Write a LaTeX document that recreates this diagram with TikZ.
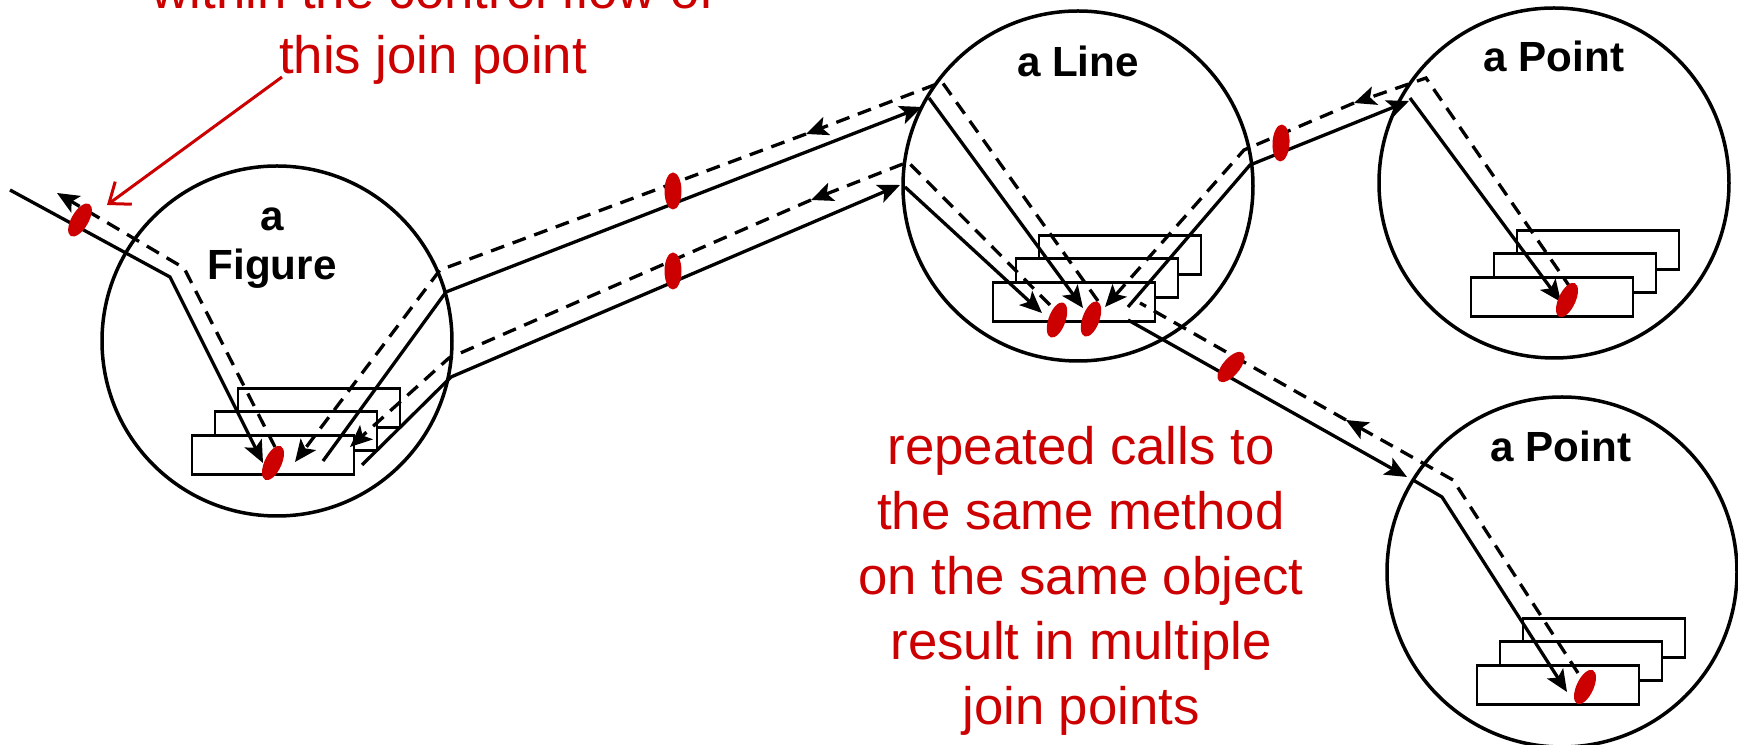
\documentclass[tikz,border=0pt]{standalone}
\usepackage{fontspec}
\setmainfont{Liberation Sans}
\usetikzlibrary{arrows.meta,shapes.geometric}
\definecolor{jpred}{RGB}{204,0,0}

\begin{document}
\begin{tikzpicture}
  [x=0.1mm, y=-0.1mm,
   objcircle/.style={draw, circle, line width=0.35mm, minimum size=35mm, inner sep=0pt},
   methodbox/.style={draw, fill=white, line width=0.24mm, minimum width=16.2mm, minimum height=3.9mm, inner sep=0pt},
   joinpt/.style={ellipse, fill=jpred, minimum width=1.7mm, minimum height=3.7mm, inner sep=0pt},
   objname/.style={font=\fontsize{12}{14.2}\selectfont\bfseries, align=center, anchor=base, inner sep=0pt},
   remark/.style={font=\fontsize{15}{18.5}\selectfont, text=jpred, align=center, anchor=base, inner sep=0pt},
   callline/.style={line width=0.33mm, -{Stealth[length=2.2mm, width=1.9mm, inset=0.5mm]}},
   returnline/.style={callline, dash pattern=on 1.4mm off 0.9mm},
   returnplain/.style={line width=0.33mm, dash pattern=on 1.4mm off 0.9mm}]
  \useasboundingbox (0,0) rectangle (1738,745);
  \clip (0,0) rectangle (1738,745);

  \node[objcircle] (fig) at (277,341) {};
  \node[objcircle] (line) at (1078,186) {};
  \node[objcircle] (pta) at (1554,183) {};
  \node[objcircle] (ptb) at (1562,572) {};

  \foreach \n/\x/\y in {fig/273/455, line/1074/302, pta/1552/297, ptb/1558/685}{
    \node[methodbox] (\n3) at (\x+46,\y-47) {};
    \node[methodbox] (\n2) at (\x+23,\y-24) {};
    \node[methodbox] (\n1) at (\x,\y) {};
  }

  \node[objname] (figname) at (272,280) {a\\Figure};
  \node[objname] (linename) at (1078,77) {a Line};
  \node[objname] (ptaname) at (1554,72) {a Point};
  \node[objname] (ptbname) at (1561,462) {a Point};

  \coordinate (a0) at (10,190);   \coordinate (a1) at (170,277);  \coordinate (a2) at (263,463);
  \coordinate (a3) at (275,447);  \coordinate (a4) at (184,268);  \coordinate (a5) at (57,193);

  \coordinate (b0) at (323,461);  \coordinate (b1) at (446,292);  \coordinate (b2) at (922,107);
  \coordinate (b3) at (929,98);   \coordinate (b4) at (1083,308);
  \coordinate (b5) at (1098,301); \coordinate (b6) at (942,82);   \coordinate (b7) at (806,134);
  \coordinate (b8) at (440,270);  \coordinate (b9) at (295,462);

  \coordinate (c0) at (362,465);  \coordinate (c1) at (451,377);  \coordinate (c2) at (900,185);
  \coordinate (c3) at (905,187);  \coordinate (c4) at (1042,313);
  \coordinate (c5) at (1050,305); \coordinate (c6) at (908,162);  \coordinate (c7) at (811,200);
  \coordinate (c8) at (449,358);  \coordinate (c9) at (350,447);

  \coordinate (d0) at (1128,307); \coordinate (d1) at (1250,165); \coordinate (d2) at (1409,101);
  \coordinate (d3) at (1410,98);  \coordinate (d4) at (1561,302);
  \coordinate (d5) at (1572,290); \coordinate (d6) at (1426,78);  \coordinate (d7) at (1354,103);
  \coordinate (d8) at (1244,150); \coordinate (d9) at (1105,307);

  \coordinate (e0) at (1128,320); \coordinate (e1) at (1407,477);
  \coordinate (e2) at (1413,480); \coordinate (e3) at (1442,497); \coordinate (e4) at (1567,692);
  \coordinate (e5) at (1578,673); \coordinate (e6) at (1453,480); \coordinate (e7) at (1346,420);
  \coordinate (e8) at (1140,303);

  \draw[callline] (a0) -- (a1) -- (a2);
  \draw[returnline] (a3) -- (a4) -- (a5);

  \draw[callline] (b0) -- (b1) -- (b2);
  \draw[callline] (b3) -- (b4);
  \draw[returnline] (b5) -- (b6) -- (b7);
  \draw[returnline] (b7) -- (b8) -- (b9);

  \draw[callline] (c0) -- (c1) -- (c2);
  \draw[callline] (c3) -- (c4);
  \draw[returnline] (c5) -- (c6) -- (c7);
  \draw[returnline] (c7) -- (c8) -- (c9);

  \draw[callline] (d0) -- (d1) -- (d2);
  \draw[callline] (d3) -- (d4);
  \draw[returnline] (d5) -- (d6) -- (d7);
  \draw[returnline] (d7) -- (d8) -- (d9);

  \draw[callline] (e0) -- (e1);
  \draw[callline] (e2) -- (e3) -- (e4);
  \draw[returnline] (e5) -- (e6) -- (e7);
  \draw[returnplain] (e7) -- (e8);

  \node[joinpt, rotate=-30] (jp0) at (80,220) {};
  \node[joinpt, rotate=-25] (jpfig) at (273,463) {};
  \node[joinpt] (jpb) at (673,191) {};
  \node[joinpt] (jpc) at (673,271) {};
  \node[joinpt, rotate=-20] (jpline1) at (1057,320) {};
  \node[joinpt, rotate=-20] (jpline2) at (1091,319) {};
  \node[joinpt, rotate=-3] (jpd) at (1281,143) {};
  \node[joinpt, rotate=-40] (jpe) at (1231,367) {};
  \node[joinpt, rotate=-25] (jppta) at (1567,300) {};
  \node[joinpt, rotate=-25] (jpptb) at (1585,687) {};

  \node[remark] (ctrlnote) at (433,74) {within the control flow of\\this join point};
  \node[remark] (repnote) at (1081,725) {repeated calls to\\the same method\\on the same object\\result in multiple\\join points};

  \coordinate (notefoot) at (282,77);
  \coordinate (notetip) at (107,205);
  \draw[jpred, line width=0.3mm, -{Straight Barb[length=1.8mm, width=2.8mm]}] (notefoot) -- (notetip);
\end{tikzpicture}
\end{document}
